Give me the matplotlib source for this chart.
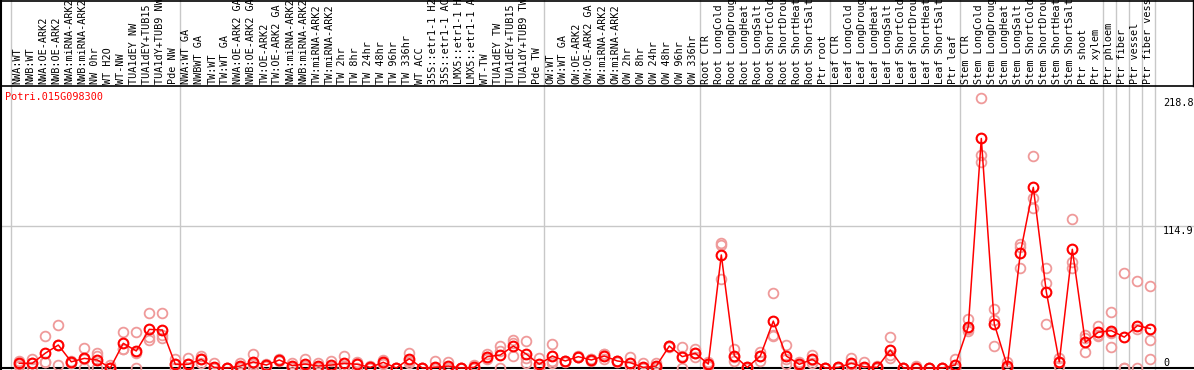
import matplotlib
matplotlib.use("Agg")
import matplotlib.pyplot as plt, numpy as np
from matplotlib.lines import Line2D
import matplotlib.transforms as mtrans

gene = "Potri.015G098300"

samples = ["NWA:WT", "NWB:WT", "NWA:OE-ARK2", "NWB:OE-ARK2", "NWA:miRNA-ARK2", "NWB:miRNA-ARK2",
           "NW 0hr", "WT H2O", "WT-NW", "TUA1dEY NW", "TUA1dEY+TUB15 NW", "TUA1dY+TUB9 NW", "Pde NW",
           "NWA:WT GA", "NWBWT GA", "TW:WT", "TW:WT GA", "NWA:OE-ARK2 GA", "NWB:OE-ARK2 GA", "TW:OE-ARK2",
           "TW:OE-ARK2 GA", "NWA:miRNA-ARK2", "NWB:miRNA-ARK2", "TW:miRNA-ARK2", "TW:miRNA-ARK2",
           "TW 2hr", "TW 8hr", "TW 24hr", "TW 48hr", "TW 96hr", "TW 336hr", "WT ACC",
           "35S::etr1-1 H2O", "35S::etr1-1 ACC", "LMX5::etr1-1 H2O", "LMX5::etr1-1 ACC", "WT-TW",
           "TUA1dEY TW", "TUA1dEY+TUB15 TW", "TUA1dY+TUB9 TW", "Pde TW",
           "OW:WT", "OW:WT GA", "OW:OE-ARK2", "OW:OE-ARK2 GA", "OW:miRNA-ARK2", "OW:miRNA-ARK2",
           "OW 2hr", "OW 8hr", "OW 24hr", "OW 48hr", "OW 96hr", "OW 336hr",
           "Root CTR", "Root LongCold", "Root LongDrought", "Root LongHeat", "Root LongSalt",
           "Root ShortCold", "Root ShortDrought", "Root ShortHeat", "Root ShortSalt", "Ptr root",
           "Leaf CTR", "Leaf LongCold", "Leaf LongDrought", "Leaf LongHeat", "Leaf LongSalt",
           "Leaf ShortCold", "Leaf ShortDrought", "Leaf ShortHeat", "Leaf ShortSalt", "Ptr leaf",
           "Stem CTR", "Stem LongCold", "Stem LongDrought", "Stem LongHeat", "Stem LongSalt",
           "Stem ShortCold", "Stem ShortDrought", "Stem ShortHeat", "Stem ShortSalt", "Ptr shoot",
           "Ptr xylem", "Ptr phloem", "Ptr fiber", "Ptr vessel", "Ptr fiber vessel"]

# group sizes (gray separators between them)
groups = [13, 28, 12, 10, 10, 11, 1, 1, 1, 1]

mean = [3.8, 3.8, 12, 18.6, 5, 7.8, 6.5, 0, 20, 13.8, 31.3, 30.8, 3,
        3, 7, 0.5, 0, 1.6, 4.9, 2.4, 6.5, 1.9, 3.2, 1.6, 2.4, 3.8, 3, 0.5, 4.6, 0, 7.5, 0, 0.5, 1.6, 0, 0.5,
        9.2, 10.5, 17.8, 11.3, 3,
        9.7, 5.7, 9.2, 6.5, 9.7, 5.7, 4.3, 0.5, 1.6, 17.8, 9.2, 11.9,
        3.2, 91.6, 10, 0.5, 9.7, 38, 9.7, 3, 7, 0,
        0.5, 3.8, 1, 0.5, 14.6, 0, 0, 0, 0, 2.4,
        33.5, 186, 35.6, 1.6, 93, 146.4, 61.8, 5, 96.2, 20.8, 29,
        30.3, 25, 34.3, 32]

rep1 = [6, 7, 26, 35, 4, 16, 12, 2.4, 29, 29, 44.4, 44.4, 7,
        8, 10, 3.9, 0, 4, 11, 2, 6.5, 4, 7, 4.3, 6, 9.7, 5, 1.5, 6.5, 0, 12, 0, 6, 4.6, 0, 2.4,
        11.3, 17.8, 23, 22, 8,
        19.4, 5, 9, 6, 7, 5, 9.2, 4.3, 4, 18, 17.3, 15,
        5, 101, 15, 0, 13, 60.5, 19, 5, 10.5, 0,
        0, 8, 4.6, 0, 25, 0, 2, 0, 0, 7,
        39.5, 218.6, 48, 5, 100.5, 172, 81, 8, 120.5, 26.7, 34,
        45, 76.7, 70.8, 66.7]
rep2 = [3, 4, 5, 2.4, 5, 0, 10, 0, 15.4, 0, 25, 27, 3,
        3, 4, 0, 0, 0, 3, 2, 7, 1, 2, 1, 1, 2, 4, 0, 4, 0, 4.3, 0, 0, 0, 0, 0,
        9, 0, 20, 8, 0,
        4, 6, 10, 7, 11, 6, 2, 0, 1, 17, 0, 12,
        3, 100, 6, 0, 6, 26, 3, 2, 4, 0,
        1, 3, 0, 0, 10.5, 0, 0, 0, 0, 0,
        32, 173, 39, 0, 98, 138, 69, 5, 86, 24, 26,
        28, 0, 0, 23]
rep3 = [2, 1, 5, 18.4, 6, 7.4, 0, 0, 15, 12.4, 23, 24, 0,
        0, 7, 0, 0, 1, 1, 3, 6, 0, 0, 0, 0, 0, 0, 0, 3, 0, 6, 0, 0, 0, 0, 0,
        7, 13.7, 9.7, 4, 1,
        6, 6, 9, 7, 11, 6, 2, 0, 0, 18, 10, 9,
        2, 72, 9, 1, 10, 27, 7, 2, 6.5, 0,
        0, 0.5, 0, 1.5, 8, 0, 0, 0, 0, 0,
        30, 167, 18, 0, 81, 130, 35.4, 2, 81, 13, 27,
        17, 0, 32, 7]

ticks = [218.8, 114.9, 0]

W, H = 1194, 370
fig = plt.figure(figsize=(W / 100, H / 100), dpi=100)
top_px = 86
ax = fig.add_axes([0, 0, 1, (H - top_px) / H])

x = np.arange(len(samples))
# pixel mapping: 13 px per sample, first sample at px 19.3; 1.234 px per unit, zero at px 368
ax.set_xlim(-19.3 / 13, (W - 19.3) / 13)
ax.set_ylim(-(H - 368) / 1.234, (368 - top_px) / 1.234)

mono = "DejaVu Sans Mono"
fs = 7.3

# replicates behind, mean line in front
for r in (rep1, rep2, rep3):
    ax.plot(x, r, ls="none", marker="o", ms=7, mfc="none", mec="#ef9a9a", mew=1.3, zorder=2)
ax.plot(x, mean, color="red", lw=1.1, marker="o", ms=7, mfc="none", mec="red", mew=1.5, zorder=3)

# grid and separators
ax.axhline(114.9, color="#c8c8c8", lw=1, zorder=0)
ax.axhline(0, color="black", lw=1.5, zorder=1)
bounds = np.concatenate([[0], np.cumsum(groups)]) - 0.64
for b in bounds:
    ax.axvline(b, ymin=0, ymax=H / (H - top_px), color="#c8c8c8", lw=1, zorder=0, clip_on=False)

for s in ["right", "bottom"]:
    ax.spines[s].set_visible(False)
ax.spines["left"].set_linewidth(1.5)
ax.spines["top"].set_linewidth(1.2)
ax.set_xticks([]); ax.set_yticks([])

# sample labels on top
trans = mtrans.blended_transform_factory(ax.transData, fig.transFigure)
for i, s in enumerate(samples):
    fig.text(x[i] - 0.15, 1 - (top_px - 2) / H, s, rotation=90, ha="center", va="bottom",
             family=mono, fontsize=fs, transform=trans, clip_on=False)

# value labels on the right
tr2 = mtrans.blended_transform_factory(ax.transAxes, ax.transData)
for t in ticks:
    ax.text(1163 / W, t, f"{t:g}" if t == 0 else f"{t:.1f}", transform=tr2, family=mono,
            fontsize=fs, ha="left", va="bottom" if t == 0 else "top")

fig.text(5 / W, 1 - 97 / H, gene, color="red", family=mono, fontsize=fs, va="center")

# frame around the figure top / label area
fig.add_artist(Line2D([0, 1], [1 - 0.5 / H, 1 - 0.5 / H], color="black", lw=1.2, transform=fig.transFigure))
fig.add_artist(Line2D([1 - 1 / W, 1 - 1 / W], [1, 1 - top_px / H], color="black", lw=1, transform=fig.transFigure))
fig.add_artist(Line2D([0.5 / W, 0.5 / W], [0, 1], color="black", lw=1.5, transform=fig.transFigure))

fig.savefig("out.png", dpi=100)
